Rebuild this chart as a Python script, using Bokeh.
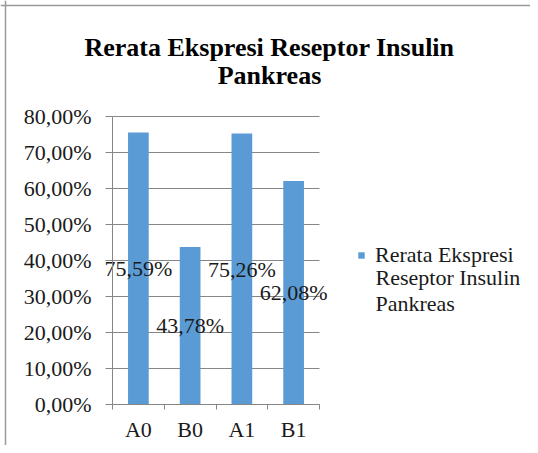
from bokeh.plotting import figure
from bokeh.models import (ColumnDataSource, FixedTicker, Legend, LegendItem, Label, Range1d, Span)
from bokeh.core.properties import value
from bokeh.embed import file_html
from bokeh.resources import INLINE

title_lines = ["Rerata Ekspresi Reseptor Insulin", "Pankreas"]
series_lines = ["Rerata Ekspresi", "Reseptor Insulin", "Pankreas"]
categories = ["A0", "B0", "A1", "B1"]
values = [75.59, 43.78, 75.26, 62.08]
value_labels = ["75,59%", "43,78%", "75,26%", "62,08%"]
y_ticks = [0, 10, 20, 30, 40, 50, 60, 70, 80]
y_tick_labels = ["0,00%", "10,00%", "20,00%", "30,00%", "40,00%", "50,00%", "60,00%", "70,00%", "80,00%"]

FONT = "Liberation Serif"
BAR = "#5B9BD5"
GRID = "#868686"
TXT = "#1a1a1a"
FS = "22px"

# canvas and the pixel box of the plotting area inside it
W, H = 530, 445
PL, PR, PT, PB = 112, 319, 116, 404
n = len(categories)
ymax = y_ticks[-1]
sx = (PR - PL) / n
sy = (PB - PT) / ymax
x_range = Range1d(-PL / sx, n + (W - PR) / sx)
y_range = Range1d(-(H - PB) / sy, ymax + PT / sy)

def dx(px):
    return (px - PL) / sx

def dy(py):
    return (PB - py) / sy

xs = [i + 0.5 for i in range(n)]
src = ColumnDataSource(dict(x=xs, top=values, lab=value_labels, ly=[v / 2 for v in values]))

p = figure(width=W, height=H, output_backend="svg", toolbar_location=None,
           x_range=x_range, y_range=y_range,
           min_border_left=0, min_border_right=0, min_border_top=0, min_border_bottom=0)
p.outline_line_color = None
p.xgrid.visible = False
p.ygrid.visible = False

# horizontal gridlines across the category span
p.segment(x0=[0] * len(y_ticks), x1=[n] * len(y_ticks), y0=y_ticks, y1=y_ticks,
          line_color=GRID, line_width=1)

r = p.vbar(x="x", top="top", width=0.4, source=src, fill_color=BAR, line_color=None)
p.text(x="x", y="ly", text="lab", source=src, text_align="center", text_baseline="middle",
       text_font=value(FONT), text_font_size=FS, text_color=TXT)

# axes fixed at the data origin
p.yaxis.fixed_location = 0
p.yaxis.bounds = (0, ymax)
p.yaxis.ticker = FixedTicker(ticks=y_ticks)
p.yaxis.major_label_overrides = {t: l for t, l in zip(y_ticks, y_tick_labels)}
p.yaxis.minor_tick_line_color = None
p.yaxis.major_tick_in = 0
p.yaxis.major_tick_out = 7
p.yaxis.major_label_standoff = 14

p.xaxis.fixed_location = 0
p.xaxis.bounds = (0, n)
p.xaxis.ticker = FixedTicker(ticks=xs, minor_ticks=list(range(n + 1)))
p.xaxis.major_label_overrides = {x: c for x, c in zip(xs, categories)}
p.xaxis.major_tick_out = 0
p.xaxis.major_tick_in = 0
p.xaxis.minor_tick_out = 5
p.xaxis.minor_tick_in = 0
p.xaxis.major_label_standoff = 7
for ax in (p.xaxis, p.yaxis):
    ax.axis_line_color = GRID
    ax.major_tick_line_color = GRID
    ax.minor_tick_line_color = GRID
    ax.major_label_text_font = FONT
    ax.major_label_text_font_size = FS
    ax.major_label_text_color = TXT

# title: two centred lines
for i, line in enumerate(title_lines):
    p.add_layout(Label(x=269, y=H - 46.5 - i * 28, x_units="screen", y_units="screen", text=line,
                       text_font=FONT, text_font_size="26px", text_font_style="bold",
                       text_align="center", text_baseline="middle", text_color="#000000"))

# legend: first line with the swatch, continuation lines as labels
legend = Legend(items=[LegendItem(label=series_lines[0], renderers=[r])],
                location=(357, H - 268), padding=0, margin=0, spacing=0,
                glyph_width=8, glyph_height=8, label_standoff=10, label_height=26,
                label_text_font=FONT, label_text_font_size=FS, label_text_color=TXT,
                border_line_color=None, background_fill_alpha=0)
p.add_layout(legend, "center")
for i, line in enumerate(series_lines[1:]):
    p.add_layout(Label(x=375, y=H - 277 - i * 26, x_units="screen", y_units="screen", text=line,
                       text_font=FONT, text_font_size=FS, text_align="left",
                       text_baseline="middle", text_color=TXT))

# frame of the source document (left and top edges)
p.add_layout(Span(location=dx(5), dimension="height", line_color="#9a9a9a", line_width=1.5))
p.add_layout(Span(location=dy(5), dimension="width", line_color="#9a9a9a", line_width=1.5))

open("out.html", "w").write(file_html(p, INLINE))
